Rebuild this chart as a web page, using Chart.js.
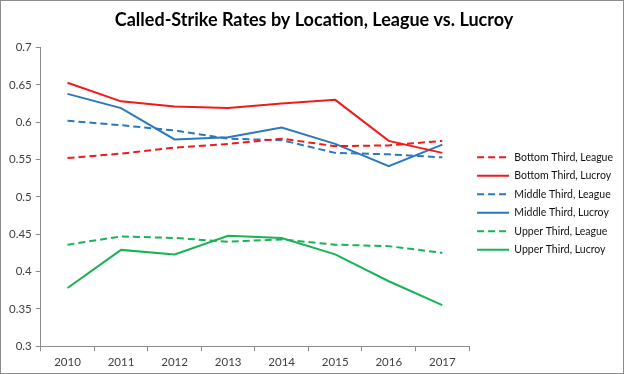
<!doctype html>
<html lang="en">
<head>
<meta charset="utf-8">
<title>Called-Strike Rates</title>
<script src="https://cdn.jsdelivr.net/npm/chart.js@4.4.1/dist/chart.umd.min.js"></script>
<style>
    html, body {
        margin: 0;
        padding: 0;
        background: #fff;
    }
    #wrap {
        width: 624px;
        height: 374px;
        box-sizing: border-box;
        border: 1px solid #8c8c8c;
        position: relative;
    }
</style>
</head>
<body>
<div id="wrap">
    <canvas id="chart"></canvas>
</div>
<script>
    var years = ["2010", "2011", "2012", "2013", "2014", "2015", "2016", "2017"];

    var bottomLeague = [0.552, 0.558, 0.566, 0.571, 0.578, 0.568, 0.569, 0.575];
    var bottomLucroy = [0.653, 0.628, 0.621, 0.619, 0.625, 0.630, 0.575, 0.559];
    var middleLeague = [0.602, 0.596, 0.589, 0.578, 0.576, 0.559, 0.557, 0.553];
    var middleLucroy = [0.638, 0.619, 0.577, 0.580, 0.593, 0.571, 0.541, 0.570];
    var upperLeague = [0.436, 0.447, 0.445, 0.440, 0.443, 0.436, 0.434, 0.425];
    var upperLucroy = [0.378, 0.429, 0.423, 0.448, 0.445, 0.423, 0.387, 0.355];

    var red = "#f01a1a";
    var blue = "#2b78bd";
    var green = "#17b356";

    function series(label, data, color, dashed) {
        return {
            label: label,
            data: data,
            borderColor: color,
            backgroundColor: color,
            borderWidth: 2,
            borderDash: dashed ? [7, 4] : [],
            pointRadius: 0,
            pointHoverRadius: 0,
            pointStyle: "line",
            tension: 0,
            fill: false
        };
    }

    // legend with point style "line" loses the dash, so put it back
    function legendLabels(chart) {
        var items = Chart.defaults.plugins.legend.labels.generateLabels(chart);
        items.forEach(function(item) {
            var ds = chart.data.datasets[item.datasetIndex];
            item.lineDash = ds.borderDash;
            item.lineWidth = 2;
            item.strokeStyle = ds.borderColor;
            item.fontColor = "#111";
        });
        return items;
    }

    var ctx = document.getElementById("chart").getContext("2d");
    new Chart(ctx, {
        type: "line",
        data: {
            labels: years,
            datasets: [
                series("Bottom Third, League", bottomLeague, red, true),
                series("Bottom Third, Lucroy", bottomLucroy, red, false),
                series("Middle Third, League", middleLeague, blue, true),
                series("Middle Third, Lucroy", middleLucroy, blue, false),
                series("Upper Third, League", upperLeague, green, true),
                series("Upper Third, Lucroy", upperLucroy, green, false)
            ]
        },
        options: {
            responsive: true,
            maintainAspectRatio: false,
            animation: false,
            layout: {
                padding: {left: 4, right: 0, top: 6, bottom: 0}
            },
            plugins: {
                title: {
                    display: true,
                    text: "Called-Strike Rates by Location, League vs. Lucroy",
                    color: "#000",
                    font: {family: "Lato", size: 18, weight: "bold"},
                    padding: {top: 2, bottom: 17}
                },
                legend: {
                    position: "right",
                    title: {
                        display: true,
                        text: " ",
                        padding: 7,
                        font: {family: "Lato", size: 11}
                    },
                    labels: {
                        usePointStyle: true,
                        pointStyleWidth: 32,
                        boxHeight: 8,
                        color: "#111",
                        font: {family: "Lato", size: 10.5},
                        padding: 8,
                        generateLabels: legendLabels
                    }
                },
                tooltip: {enabled: false}
            },
            scales: {
                x: {
                    offset: true,
                    grid: {
                        offset: true,
                        drawOnChartArea: false,
                        drawTicks: true,
                        tickLength: 5,
                        color: "#8c8c8c"
                    },
                    border: {color: "#8c8c8c", width: 1},
                    ticks: {
                        color: "#404040",
                        font: {family: "Lato", size: 11.5},
                        padding: 4
                    }
                },
                y: {
                    min: 0.3,
                    max: 0.7,
                    ticks: {
                        stepSize: 0.05,
                        color: "#404040",
                        font: {family: "Lato", size: 11.5},
                        padding: 4,
                        callback: function(v) {
                            return String(Math.round(v * 100) / 100);
                        }
                    },
                    grid: {
                        drawOnChartArea: false,
                        drawTicks: true,
                        tickLength: 5,
                        color: "#8c8c8c"
                    },
                    border: {color: "#8c8c8c", width: 1}
                }
            }
        }
    });
</script>
</body>
</html>
